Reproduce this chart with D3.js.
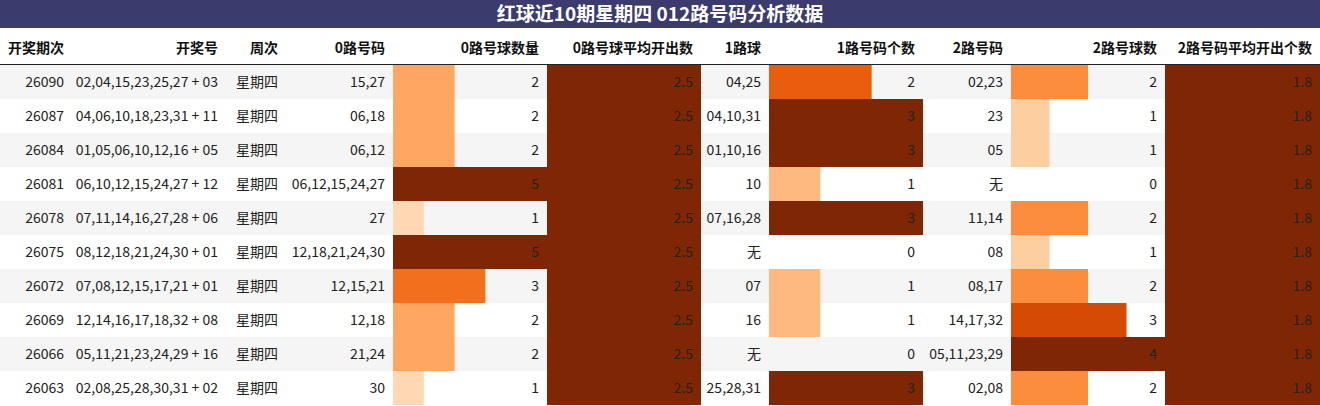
<!DOCTYPE html>
<html><head><meta charset="utf-8">
<script src="https://cdn.jsdelivr.net/npm/d3@7"></script>
<style>body{margin:0;background:#fff}</style></head>
<body><svg id="c" width="1320" height="406"></svg>
<script>
const title = "红球近10期星期四 012路号码分析数据";
const headers = ["开奖期次","开奖号","周次","0路号码","0路号球数量","0路号球平均开出数","1路球","1路号码个数","2路号码","2路号球数","2路号码平均开出个数"];
const periods = ["26090","26087","26084","26081","26078","26075","26072","26069","26066","26063"];
const draws = ["02,04,15,23,25,27 + 03","04,06,10,18,23,31 + 11","01,05,06,10,12,16 + 05","06,10,12,15,24,27 + 12","07,11,14,16,27,28 + 06","08,12,18,21,24,30 + 01","07,08,12,15,17,21 + 01","12,14,16,17,18,32 + 08","05,11,21,23,24,29 + 16","02,08,25,28,30,31 + 02"];
const weekday = Array(10).fill("星期四");
const r0nums = ["15,27","06,18","06,12","06,12,15,24,27","27","12,18,21,24,30","12,15,21","12,18","21,24","30"];
const r0cnt = [2,2,2,5,1,5,3,2,2,1];
const r0avg = Array(10).fill(2.5);
const r1nums = ["04,25","04,10,31","01,10,16","10","07,16,28","无","07","16","无","25,28,31"];
const r1cnt = [2,3,3,1,3,0,1,1,0,3];
const r2nums = ["02,23","23","05","无","11,14","08","08,17","14,17,32","05,11,23,29","02,08"];
const r2cnt = [2,1,1,0,2,1,2,3,4,2];
const r2avg = Array(10).fill(1.8);

const cols = [
 {x0:0,x1:72,data:periods},
 {x0:72,x1:226,data:draws},
 {x0:226,x1:286,data:weekday},
 {x0:286,x1:393,data:r0nums},
 {x0:393,x1:547,data:r0cnt,bar:true},
 {x0:547,x1:701,data:r0avg,bar:true,fmt:d=>d.toFixed(1)},
 {x0:701,x1:769,data:r1nums},
 {x0:769,x1:923,data:r1cnt,bar:true},
 {x0:923,x1:1011,data:r2nums},
 {x0:1011,x1:1165,data:r2cnt,bar:true},
 {x0:1165,x1:1320,data:r2avg,bar:true,fmt:d=>d.toFixed(1)}
];
const svg = d3.select("#c");
const font = "'Noto Sans CJK SC', 'Liberation Sans', sans-serif";
svg.append("rect").attr("x",0).attr("y",0).attr("width",1320).attr("height",28).attr("fill","#3b3b6d");
svg.append("text").attr("x",660).attr("y",21).attr("text-anchor","middle").attr("fill","#fff")
 .attr("font-family",font).attr("font-weight","bold").attr("font-size",19).text(title);
const y = d3.scaleBand().domain(d3.range(10)).range([65,405]);
headers.forEach((h,i)=>{
 svg.append("text").attr("x",i==0?8:cols[i].x1-8).attr("y",53).attr("text-anchor",i==0?"start":"end")
  .attr("font-family",font).attr("font-weight","bold").attr("font-size",14).attr("fill","#111").text(h);
});
svg.append("line").attr("x1",0).attr("x2",1320).attr("y1",64.5).attr("y2",64.5).attr("stroke","#222").attr("stroke-width",1);
d3.range(10).forEach(r=>{
 svg.append("rect").attr("x",0).attr("y",y(r)).attr("width",1320).attr("height",y.bandwidth()).attr("fill",r%2==0?"#f5f5f5":"#fff");
});
cols.forEach(c=>{
 if(c.bar){
  const mx = d3.max(c.data);
  const w = d3.scaleLinear().domain([0,mx]).range([0,c.x1-c.x0]);
  svg.append("g").selectAll("rect").data(c.data).join("rect")
   .attr("x",c.x0).attr("y",(d,i)=>y(i)).attr("height",y.bandwidth()).attr("width",d=>w(d))
   .attr("fill",d=>d3.interpolateOranges(d/mx));
 }
 svg.append("g").selectAll("text").data(c.data).join("text")
  .attr("x",c.x1-8).attr("y",(d,i)=>y(i)+y.bandwidth()/2+5).attr("text-anchor","end")
  .attr("font-family",font).attr("font-size",14).attr("fill","#222")
  .text(d=>c.fmt?c.fmt(d):d);
});
</script></body></html>
